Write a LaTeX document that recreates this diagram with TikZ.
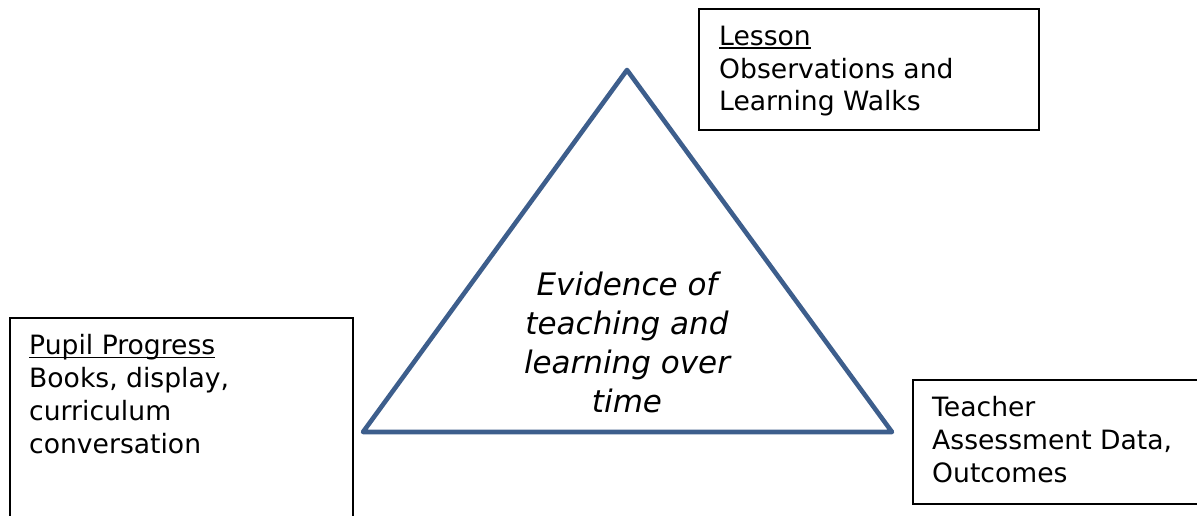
\documentclass[tikz,border=0pt]{standalone}
\usepackage{fontspec}
\setmainfont{DejaVu Sans}
\usetikzlibrary{positioning}
\definecolor{triblue}{RGB}{61,94,140}
\newcommand{\heading}[1]{\setbox0\hbox{#1}\rlap{\rule[-3.5pt]{\wd0}{1.8pt}}\box0}

\begin{document}
\begin{tikzpicture}[x=1pt, y=1pt,
  box/.style={draw, line width=1.6pt, inner sep=0pt, anchor=north west},
  boxtext/.style={align=left, anchor=base west, inner sep=0pt, font=\fontsize{26.6}{32.7}\selectfont},
  centretext/.style={align=center, anchor=base, inner sep=0pt, font=\fontsize{31}{38.7}\selectfont\itshape},
]
  \useasboundingbox (0,0) rectangle (1197,515);
  % the three evidence boxes
  \node[box, minimum width=340, minimum height=121] (lessonbox) at (698,507) {};
  \node[box, minimum width=343, minimum height=230] (pupilbox) at (9,198) {};
  \node[box, minimum width=300, minimum height=124] (teacherbox) at (912,136) {};
  \node[boxtext] (lesson) at ([shift={(21,-103)}]lessonbox.north west) {\heading{Lesson}\\ Observations and\\ Learning Walks};
  \node[boxtext] (pupil) at ([shift={(20,-136)}]pupilbox.north west) {\heading{Pupil Progress}\\ Books, display,\\ curriculum\\ conversation};
  \node[boxtext] (teacher) at ([shift={(20,-103)}]teacherbox.north west) {Teacher\\ Assessment Data,\\ Outcomes};
  % triangle
  \coordinate (apex) at (627,445);
  \coordinate (left) at (363,83);
  \coordinate (right) at (892,83);
  \draw[triblue, line width=4.6pt, line join=round] (apex) -- (right) -- (left) -- cycle;
  \node[centretext] (evidence) at (627,103) {Evidence of\\ teaching and\\ learning over\\ time};
\end{tikzpicture}
\end{document}
